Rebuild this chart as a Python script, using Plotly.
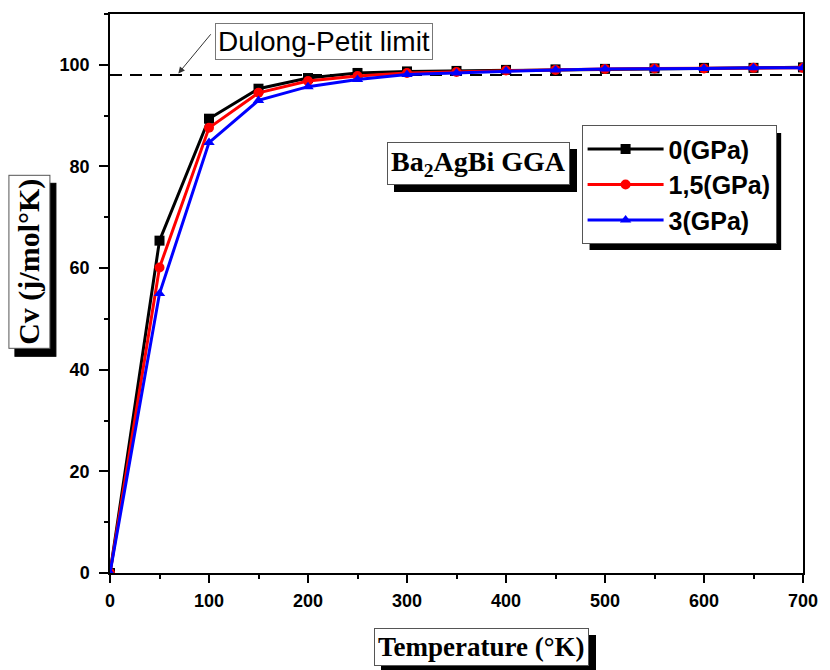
import plotly.graph_objects as go

# Heat capacity Cv vs temperature for Ba2AgBi (GGA) at three pressures
temperature = [0, 50, 100, 150, 200, 250, 300, 350, 400, 450, 500, 550, 600, 650, 700]
cv_0gpa = [0.0, 65.4, 89.4, 95.3, 97.4, 98.4, 98.7, 98.8, 99.0, 99.1, 99.2, 99.3, 99.4, 99.4, 99.5]
cv_15gpa = [0.0, 60.1, 87.6, 94.5, 96.8, 97.8, 98.4, 98.6, 98.9, 99.0, 99.2, 99.3, 99.3, 99.4, 99.4]
cv_3gpa = [0.0, 55.0, 84.7, 93.0, 95.7, 97.1, 98.1, 98.4, 98.8, 99.0, 99.2, 99.2, 99.3, 99.4, 99.4]
series_names = ["0(GPa)", "1,5(GPa)", "3(GPa)"]
dulong_petit = 98.0

fig = go.Figure()

# Dulong-Petit reference line
fig.add_trace(go.Scatter(
    x=[temperature[0], temperature[-1]], y=[dulong_petit, dulong_petit],
    mode="lines", line=dict(color="black", width=2, dash="12px,8px"),
    showlegend=False, hoverinfo="skip"))

styles = [("black", "square"), ("red", "circle"), ("blue", "triangle-up")]
for name, vals, (col, sym) in zip(series_names, [cv_0gpa, cv_15gpa, cv_3gpa], styles):
    fig.add_trace(go.Scatter(
        x=temperature, y=vals, mode="lines+markers", name=name,
        line=dict(color=col, width=3),
        marker=dict(color=col, symbol=sym, size=10)))

axis_font = dict(family="Arial", size=18, color="black", weight="bold")
fig.update_xaxes(range=[0, 700], tickvals=list(range(0, 701, 100)),
                 ticks="outside", ticklen=8, tickwidth=1.5, tickcolor="black",
                 minor=dict(ticks="outside", ticklen=4, dtick=50, tickcolor="black"),
                 showline=True, linecolor="black", linewidth=1.5, mirror=True,
                 showgrid=False, zeroline=False, tickfont=axis_font,
                 ticklabelstandoff=3)
fig.update_yaxes(range=[0, 110], tickvals=list(range(0, 101, 20)),
                 ticks="outside", ticklen=9, tickwidth=1.5, tickcolor="black",
                 minor=dict(ticks="outside", ticklen=4, dtick=10, tickcolor="black"),
                 showline=True, linecolor="black", linewidth=1.5, mirror=True,
                 showgrid=False, zeroline=False, tickfont=axis_font,
                 ticklabelstandoff=6)

serif = "Liberation Serif"


def boxed_label(text, x, y, xref, yref, size, angle=0, dx=7, dy=7):
    # black offset copy first, then the white framed label on top
    common = dict(x=x, y=y, xref=xref, yref=yref, showarrow=False, textangle=angle,
                  xanchor="center", yanchor="middle", borderpad=3, borderwidth=1)
    fig.add_annotation(text=text, font=dict(family=serif, size=size, color="black"),
                       bgcolor="black", bordercolor="black",
                       xshift=dx, yshift=-dy, **common)
    fig.add_annotation(text=text, font=dict(family=serif, size=size, color="black"),
                       bgcolor="white", bordercolor="#555555", **common)


boxed_label("<b>Ba<sub>2</sub>AgBi GGA</b>", 372, 80.5, "x", "y", 28)
boxed_label("<b>Temperature (°K)</b>", 0.536, -0.133, "paper", "paper", 27)
boxed_label("<b>Cv (j/mol°K)</b>", -0.116, 0.556, "paper", "paper", 30,
            angle=-90, dx=6, dy=8)

# Label box and arrow pointing at the Dulong-Petit line
fig.add_annotation(text="Dulong-Petit limit", x=216, y=104.6, xref="x", yref="y",
                   showarrow=False, xanchor="center", yanchor="middle",
                   font=dict(family="Arial", size=28, color="black"),
                   bgcolor="white", bordercolor="#777777", borderwidth=1, borderpad=2)
fig.add_annotation(text="", x=69, y=98.3, xref="x", yref="y",
                   ax=103, ay=106.3, axref="x", ayref="y",
                   showarrow=True, arrowhead=2, arrowsize=1.3, arrowwidth=1,
                   arrowcolor="#333333")

# Legend drop shadow
fig.add_shape(type="rect", xref="paper", yref="paper",
              x0=0.692, x1=0.9685, y0=0.578, y1=0.787,
              fillcolor="black", line=dict(width=0), layer="above")

fig.update_layout(
    width=830, height=670,
    margin=dict(l=110, r=22, t=14, b=97),
    paper_bgcolor="white", plot_bgcolor="white",
    showlegend=True,
    legend=dict(x=0.6805, y=0.801, xanchor="left", yanchor="top",
                bgcolor="white", bordercolor="#555555", borderwidth=1,
                font=dict(family="Arial", size=25, color="black", weight="bold"),
                itemwidth=76),
)

fig.write_html("out.html")
